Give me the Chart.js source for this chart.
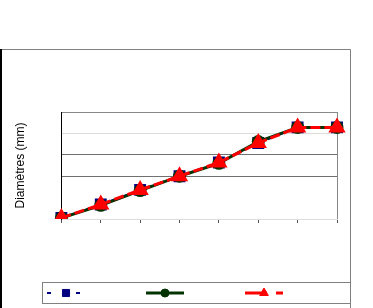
<!DOCTYPE html>
<html>
<head>
<meta charset="utf-8">
<script src="https://cdn.jsdelivr.net/npm/chart.js@4/dist/chart.umd.min.js"></script>
<style>
  html, body { margin: 0; padding: 0; background: #fff; }
  #wrap { width: 373px; height: 308px; }
</style>
</head>
<body>
<div id="wrap"><canvas id="chart" width="373" height="308"></canvas></div>
<script>
// points along the x axis (no visible labels in the reference)
const categories = ['1', '2', '3', '4', '5', '6', '7', '8'];

// three near-identical series (axis 0..5, labels not legible)
const seriesBlue  = [0.05, 0.68, 1.36, 2.0, 2.64, 3.55, 4.28, 4.28];
const seriesGreen = [0.05, 0.64, 1.33, 2.0, 2.6, 3.62, 4.28, 4.28];
const seriesRed   = [0.05, 0.68, 1.36, 2.0, 2.64, 3.55, 4.28, 4.28];

const yMin = 0;
const yMax = 5;
const yStep = 1;

const yTitle = 'Diamètres (mm)';

// gridline colour per y value (reference has mixed light / dark lines)
const yGridColours = { 0: '#dddddd', 1: 'rgba(0,0,0,0)', 2: '#707070', 3: '#707070', 4: '#dddddd', 5: '#888888' };

// frame + legend box drawn around the chart, legend items use dataset styles
const framePlugin = {
  id: 'frame',
  beforeDraw(chart) {
    const ctx = chart.ctx;
    ctx.save();
    ctx.fillStyle = '#ffffff';
    ctx.fillRect(0, 0, chart.width, chart.height);
    ctx.restore();
  },
  afterDraw(chart) {
    const ctx = chart.ctx;
    ctx.save();
    // outer frame
    ctx.strokeStyle = '#808080';
    ctx.lineWidth = 1;
    ctx.beginPath();
    ctx.moveTo(0, 49.5);
    ctx.lineTo(350.5, 49.5);
    ctx.lineTo(350.5, chart.height);
    ctx.stroke();
    ctx.strokeStyle = '#000000';
    ctx.lineWidth = 2;
    ctx.beginPath();
    ctx.moveTo(1, 49);
    ctx.lineTo(1, chart.height);
    ctx.stroke();

    // legend box
    ctx.strokeStyle = '#808080';
    ctx.lineWidth = 1;
    ctx.strokeRect(42.5, 282.5, 308, 21);

    const centres = [66, 165, 264];
    const y = 293;
    chart.data.datasets.forEach((ds, i) => {
      const cx = centres[i];
      ctx.save();
      ctx.strokeStyle = ds.borderColor;
      ctx.lineWidth = ds.borderWidth;
      ctx.setLineDash(ds.legendDash || ds.borderDash || []);
      ctx.beginPath();
      ctx.moveTo(cx - 19, y);
      ctx.lineTo(cx + 19, y);
      ctx.stroke();
      ctx.setLineDash([]);
      ctx.fillStyle = ds.pointBackgroundColor;
      ctx.strokeStyle = ds.pointBorderColor;
      ctx.lineWidth = 1;
      Chart.helpers.drawPoint(ctx, {
        pointStyle: ds.pointStyle,
        radius: ds.legendRadius || ds.pointRadius,
        borderWidth: 1,
        rotation: 0
      }, cx, y);
      ctx.restore();
    });
    ctx.restore();
  }
};

const chart = new Chart(document.getElementById('chart'), {
  type: 'line',
  data: {
    labels: categories,
    datasets: [
      {
        label: '',
        data: seriesBlue,
        borderColor: '#000080',
        borderWidth: 2,
        borderDash: [5, 8],
        legendDash: [4, 25],
        pointStyle: 'rect',
        pointRadius: 7,
        legendRadius: 5,
        pointBackgroundColor: '#000080',
        pointBorderColor: '#000080',
        order: 2
      },
      {
        label: '',
        data: seriesGreen,
        borderColor: '#003300',
        borderWidth: 3,
        pointStyle: 'circle',
        pointRadius: 5,
        legendRadius: 4,
        pointBackgroundColor: '#003300',
        pointBorderColor: '#003300',
        order: 1
      },
      {
        label: '',
        data: seriesRed,
        borderColor: '#ff0000',
        borderWidth: 3,
        borderDash: [10, 4],
        legendDash: [22, 9],
        pointStyle: 'triangle',
        pointRadius: 7,
        legendRadius: 5,
        pointBackgroundColor: '#ff0000',
        pointBorderColor: '#ff0000',
        order: 0
      }
    ]
  },
  options: {
    responsive: false,
    animation: false,
    layout: { padding: { left: 0, top: 112, right: 36, bottom: 85 } },
    plugins: {
      legend: { display: false },
      tooltip: { enabled: false }
    },
    scales: {
      x: {
        offset: false,
        ticks: { display: false },
        grid: {
          color: (c) => (c.index === categories.length - 1 ? '#888888' : 'rgba(0,0,0,0)'),
          tickColor: '#555555',
          tickLength: 4,
          drawTicks: true
        },
        border: { color: '#dddddd', width: 1 }
      },
      y: {
        min: yMin,
        max: yMax,
        ticks: { display: false, stepSize: yStep },
        grid: {
          color: (c) => (c.tick ? (yGridColours[c.tick.value] || 'rgba(0,0,0,0)') : 'rgba(0,0,0,0)'),
          drawTicks: false
        },
        border: { color: '#000000', width: 1 },
        title: {
          display: true,
          text: yTitle,
          color: '#000000',
          font: { family: 'Liberation Sans, Arial, sans-serif', size: 12 },
          padding: { top: 13, bottom: 34 }
        }
      }
    }
  },
  plugins: [framePlugin]
});
</script>
</body>
</html>
